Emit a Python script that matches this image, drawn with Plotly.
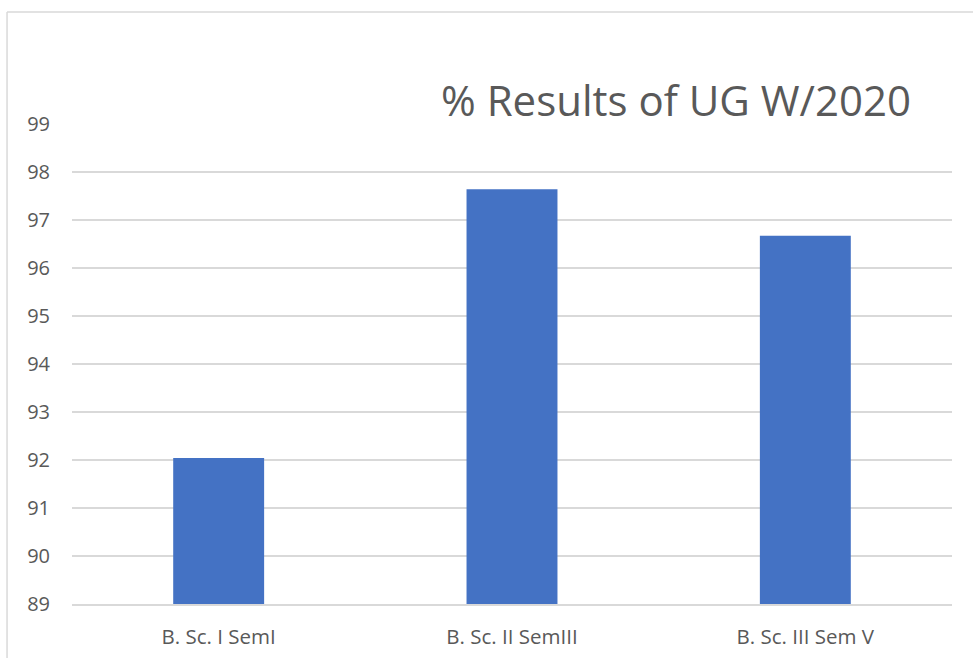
import plotly.graph_objects as go

categories = ["B. Sc. I SemI", "B. Sc. II SemIII", "B. Sc. III Sem V"]
values = [92.04, 97.64, 96.67]
y_ticks = list(range(89, 100))

W, H = 973, 658
L, R, T, B = 72, 20.5, 124, 54
pw, ph = W - L - R, H - T - B

def px_x(x):
    return (x - L) / pw

def px_y(y):
    return (H - B - y) / ph

FONT = "Open Sans"

fig = go.Figure(go.Bar(
    x=categories, y=values, marker=dict(color="#4472C4", line=dict(width=0)),
    width=0.31,
))

fig.update_layout(
    width=W, height=H,
    margin=dict(l=L, r=R, t=T, b=B, autoexpand=False),
    paper_bgcolor="white", plot_bgcolor="white",
    showlegend=False,
    font=dict(family=FONT, color="#595959"),
    xaxis=dict(showgrid=False, showline=True, linecolor="#d9d9d9", linewidth=1.5,
               ticks="", tickfont=dict(size=20.5, color="#595959"), ticklabelstandoff=14),
    yaxis=dict(range=[89, 99], tickvals=y_ticks, showgrid=True, gridcolor="#d9d9d9",
               gridwidth=1.5, zeroline=False, showline=False,
               ticks="outside", ticklen=17, tickcolor="rgba(0,0,0,0)",
               tickfont=dict(size=20, color="#595959")),
    annotations=[dict(
        text="% Results of UG W/2020", xref="paper", yref="paper",
        x=px_x(913), y=px_y(99), xanchor="right", yanchor="middle",
        showarrow=False, font=dict(size=42, color="#595959", family=FONT),
    )],
    shapes=[
        dict(type="line", xref="paper", yref="paper", x0=px_x(7), x1=px_x(980),
             y0=px_y(12), y1=px_y(12), line=dict(color="#d9d9d9", width=1.5)),
        dict(type="line", xref="paper", yref="paper", x0=px_x(7), x1=px_x(7),
             y0=px_y(12), y1=px_y(670), line=dict(color="#d9d9d9", width=1.5)),
    ],
)

fig.write_html("out.html", config={"displayModeBar": False},
               post_script="document.body.style.margin='0';document.body.style.overflow='hidden';")
